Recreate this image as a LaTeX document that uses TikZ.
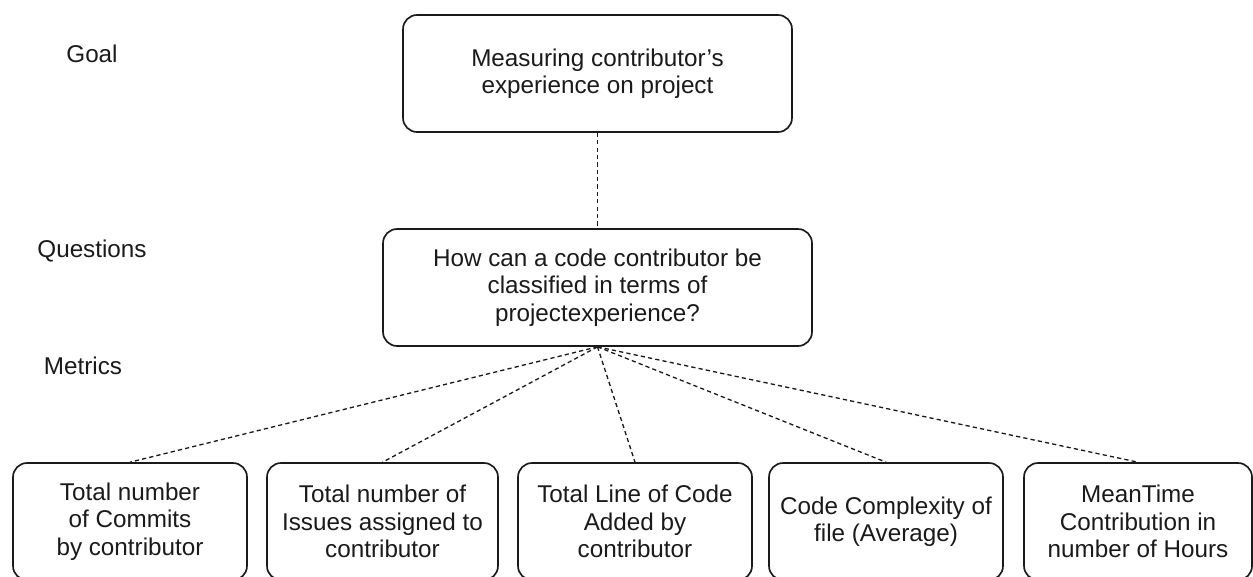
\documentclass[tikz,border=0pt]{standalone}
\usepackage{fontspec}
\setmainfont{Liberation Sans}
\definecolor{Ink}{HTML}{1A1A1A}

\begin{document}
\begin{tikzpicture}[x=0.02cm,y=-0.02cm,
  box/.style={draw=Ink,line width=0.95pt,rounded corners=0.28cm,align=center,inner sep=0pt,text=Ink,font=\fontsize{13.8}{15.6}\selectfont},
  tag/.style={anchor=base,text=Ink,font=\fontsize{13.8}{15.6}\selectfont},
  link/.style={draw=Ink,line width=0.75pt,dash pattern=on 2.4pt off 1.8pt}]
\useasboundingbox (0,0) rectangle (1253,576);
% level labels
\node[tag] (lblgoal) at (92,62) {Goal};
\node[tag] (lblquest) at (92,257) {Questions};
\node[tag] (lblmetric) at (83,374) {Metrics};
% goal and question
\node[box,minimum width=7.78cm,minimum height=2.34cm] (goal) at (597.5,73.5) {Measuring contributor’s\\experience on project};
\node[box,minimum width=8.58cm,minimum height=2.34cm] (quest) at (597.5,287.5) {How can a code contributor be\\classified in terms of\\projectexperience?};
% metrics
\node[box,minimum width=4.68cm,minimum height=2.34cm] (mcommits) at (130,521.5) {Total number\\of Commits\\by contributor};
\node[box,minimum width=4.62cm,minimum height=2.34cm] (missues) at (382.5,521.5) {Total number of\\Issues assigned to\\contributor};
\node[box,minimum width=4.68cm,minimum height=2.34cm] (mlines) at (635,521.5) {Total Line of Code\\Added by\\contributor};
\node[box,minimum width=4.68cm,minimum height=2.34cm] (mcomplex) at (886,521.5) {Code Complexity of\\file (Average)};
\node[box,minimum width=4.56cm,minimum height=2.34cm] (mhours) at (1138,521.5) {MeanTime\\Contribution in\\number of Hours};
% links
\draw[link] (goal.south) -- (quest.north);
\foreach \m in {mcommits,missues,mlines,mcomplex,mhours}
  \draw[link] (quest.south) -- (\m.north);
\end{tikzpicture}
\end{document}
